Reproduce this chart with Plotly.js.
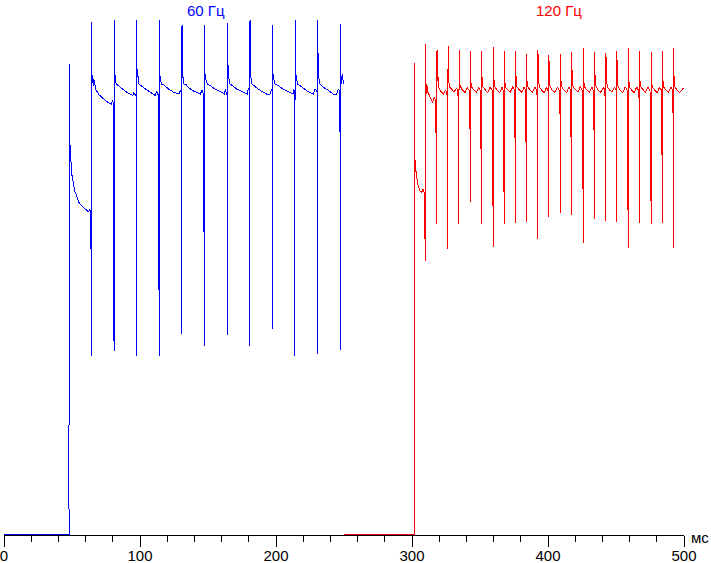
<!DOCTYPE html>
<html>
<head>
<meta charset="utf-8">
<script src="https://cdn.plot.ly/plotly-3.0.1.min.js"></script>
<style>
html,body{margin:0;padding:0;background:#fff;}
#chart{width:711px;height:563px;}
svg path.js-line{shape-rendering:crispEdges;}
</style>
</head>
<body>
<div id="chart"></div>
<script>
// Time axis, ms
const xTickVals = [0, 100, 200, 300, 400, 500];
const xTickText = ["0", "100", "200", "300", "400", "500"];
const xUnit = "мс";
const seriesNames = ["60 Гц", "120 Гц"];

// 60 Hz series (time ms, brightness, arbitrary units)
const blueT = [
  0, 47.8, 47.85, 47.95, 48.1, 48.3, 48.5, 49.0, 49.8, 50.9, 52.0, 53.5, 54.9, 56.4, 57.9, 60.1, 62.3, 63.0, 63.7, 64.0, 64.1,
  64.2, 64.3, 64.45, 64.6, 65.0, 65.6, 66.0, 67.5, 70.0, 72.5, 75.0, 77.5, 79.0, 79.8, 80.6,
  80.9, 81.0, 81.15, 81.3, 81.5, 82.5, 85.0, 88.0, 91.0, 94.6, 95.5, 96.6, 97.3,
  97.45, 97.55, 97.6, 97.75, 98.0, 99.1, 102.0, 105.0, 108.0, 111.1, 112.2, 113.6,
  114.1, 114.2, 114.4, 115.7, 117.5, 121.0, 125.0, 128.6, 129.6, 130.4, 130.6,
  130.8, 130.9, 131.05, 131.2, 132.4, 133.5, 136.0, 140.0, 144.5, 145.5, 146.6, 147.3,
  147.45, 147.5, 147.8, 148.6, 149.5, 152.0, 155.0, 159.0, 162.0, 162.8, 163.8,
  164.15, 164.2, 164.3, 164.4, 164.55, 164.8, 166.0, 168.5, 171.0, 175.0, 179.0, 179.6, 180.4,
  180.75, 180.85, 180.9, 181.2, 182.2, 185.0, 189.0, 193.0, 195.5, 196.8, 197.3,
  197.45, 197.5, 197.8, 199.0, 202.0, 205.0, 209.5, 212.5, 213.0, 213.8,
  213.95, 214.0, 214.15, 214.3, 214.6, 215.8, 219.0, 223.0, 227.5, 228.8, 230.2,
  230.55, 230.65, 230.7, 231.0, 232.2, 234.5, 238.0, 242.0, 244.5, 245.8, 247.0,
  247.45, 247.5, 247.65, 247.8, 248.8, 249.6
];
const blueV = [
  0, 0, 93.9, 75, 84.6, 74, 78, 74, 72, 70.4, 68.6, 67.6, 66.4, 65.8, 65.4, 64.8, 64.4, 65, 64.4, 56.4, 64.2,
  35.7, 102.4, 91.7, 89.7, 91.7, 89.7, 91.0, 88.9, 87.8, 87.2, 86.6, 86.1, 86.0, 86.8, 86.0,
  36.7, 102.8, 101, 90, 92, 90, 89.4, 88.8, 88.2, 87.7, 88.3, 87.8, 88.0,
  62, 35.7, 102.8, 91, 93, 90, 89.4, 88.8, 88.2, 87.7, 88.5, 87.7,
  35.7, 102.8, 92.2, 90, 89.8, 89.0, 88.3, 88.0, 88.8, 88.2, 84.4,
  40, 101.8, 97.8, 92, 90, 90, 89.2, 88.5, 88.0, 88.8, 88.0, 40.5,
  37.7, 101.8, 92, 90.6, 90, 89.6, 89.0, 88.5, 88.0, 88.9, 88.0,
  87.6, 39.8, 102.2, 101.6, 91.4, 92, 90, 89.6, 89.0, 88.5, 88.0, 89.2, 88.5,
  55.9, 37.7, 102.7, 92, 90, 89.4, 88.6, 88.0, 88.0, 89.0, 88.4,
  41, 101.8, 92, 90, 89.6, 89.0, 88.4, 88.0, 89.0, 88.4,
  35.7, 102.7, 97.4, 91.4, 92, 90, 89.4, 88.6, 88.0, 89.0, 88.4,
  41.8, 36, 102.7, 92, 90, 89.4, 88.8, 88.0, 88.0, 89.0, 88.4,
  36.9, 102, 97.4, 90, 92, 90
];

// 120 Hz series (time ms, brightness, arbitrary units)
const redT = [
  250.0, 301.5, 301.55, 301.65, 301.8, 302.0, 302.5, 303.3, 304.0, 304.8, 305.9, 307.0, 308.3, 309.2,
  309.75, 309.8, 309.9, 310.1, 310.3, 310.8, 311.6, 313.0, 315.2, 316.3, 317.4,
  318.3, 318.35, 318.4, 318.6, 319.0, 319.6, 321.0, 323.0, 324.6, 325.6,
  326.35, 326.4, 326.5, 326.65, 326.9, 327.6, 329.0, 331.0, 332.8, 333.8,
  334.5, 334.6, 334.8, 335.4, 337.0, 339.0, 340.6, 342.0,
  342.75, 342.8, 342.9, 343.1, 343.7, 345.3, 347.3, 349.0, 350.4,
  351.2, 351.3, 351.5, 352.1, 353.7, 355.7, 357.5, 358.9,
  359.8, 359.9, 360.05, 360.3, 361.0, 362.5, 364.5, 366.2, 367.2,
  367.75, 367.8, 367.9, 368.1, 368.8, 370.3, 372.3, 374.2, 375.4,
  376.15, 376.2, 376.3, 376.5, 377.1, 378.7, 380.7, 382.5, 383.6,
  384.2, 384.3, 384.5, 385.1, 386.7, 388.7, 390.4, 391.8,
  392.45, 392.5, 392.6, 392.75, 393.0, 393.7, 395.2, 397.2, 399.0, 400.0,
  400.55, 400.6, 400.7, 400.9, 401.5, 403.1, 405.1, 406.9, 408.3,
  408.95, 409.0, 409.1, 409.25, 409.5, 410.2, 411.7, 413.7, 415.5, 416.7,
  417.3, 417.4, 417.55, 417.8, 418.5, 420.0, 422.0, 423.9, 425.2,
  425.85, 425.9, 426.0, 426.2, 426.8, 428.4, 430.4, 432.2, 433.5,
  434.15, 434.2, 434.3, 434.45, 434.7, 435.4, 436.9, 438.9, 440.7, 441.9,
  442.5, 442.6, 442.75, 443.0, 443.7, 445.2, 447.2, 449.0, 450.1,
  450.55, 450.6, 450.7, 450.85, 451.5, 453.0, 455.0, 456.8, 458.3,
  458.95, 459.0, 459.1, 459.25, 459.9, 461.4, 463.4, 465.2, 466.6,
  467.25, 467.3, 467.4, 467.55, 468.2, 469.7, 471.7, 473.5, 475.0,
  475.9, 476.0, 476.15, 476.8, 478.3, 480.3, 482.1, 483.5,
  484.15, 484.2, 484.3, 484.45, 485.1, 486.6, 488.6, 490.4, 491.7,
  492.25, 492.3, 492.4, 492.55, 492.7, 493.4, 494.9, 496.9, 498.7, 499.6
];
const redV = [
  0, 0, 94.2, 84.0, 74.4, 75.7, 73.4, 71.4, 70.4, 69.4, 68.6, 68.3, 69.0, 68.0,
  54.7, 83.7, 97.9, 90.3, 88.0, 90.0, 88.4, 87.6, 86.3, 87.3, 86.7,
  64.3, 62.0, 96.7, 90.7, 92.0, 89.4, 88.6, 88.0, 88.7, 88.4,
  85.0, 57.1, 97.5, 94.0, 90.7, 89.4, 88.9, 88.4, 89.2, 88.6,
  62.0, 96.7, 91.0, 89.6, 88.8, 88.3, 89.3, 88.7,
  80.0, 66.5, 96.5, 91.0, 89.4, 88.9, 88.3, 89.3, 88.6,
  62.0, 96.5, 90.7, 89.5, 88.8, 88.2, 89.4, 88.7,
  57.5, 97.3, 95.0, 90.8, 89.4, 88.8, 88.3, 89.3, 88.6,
  75.0, 62.0, 96.5, 90.7, 89.3, 88.9, 88.4, 89.5, 88.8,
  68.4, 62.2, 96.5, 91.0, 89.4, 88.8, 88.3, 89.4, 88.7,
  62.5, 96.0, 90.8, 89.5, 88.8, 88.4, 89.4, 88.7,
  83.4, 59.1, 96.8, 93.0, 90.8, 89.4, 88.8, 88.3, 89.4, 88.6,
  64.5, 63.5, 95.8, 90.7, 89.5, 88.8, 88.3, 89.4, 88.7,
  83.0, 64.2, 96.0, 94.7, 90.8, 89.4, 88.8, 88.3, 89.4, 88.7,
  63.8, 96.3, 92.0, 90.7, 89.4, 88.9, 88.4, 89.5, 88.7,
  65.0, 58.2, 97.1, 91.0, 89.4, 88.8, 88.3, 89.4, 88.6,
  73.3, 63.0, 96.3, 92.8, 90.8, 89.4, 88.8, 88.3, 89.4, 88.7,
  62.7, 96.2, 95.3, 90.8, 89.4, 88.8, 88.4, 89.4, 88.7,
  79.8, 62.5, 96.5, 90.8, 89.5, 88.8, 88.3, 89.4, 88.7,
  61.7, 57.3, 97.1, 91.2, 89.4, 88.8, 88.3, 89.4, 88.7,
  85.8, 62.2, 96.5, 90.8, 89.4, 88.9, 88.3, 89.4, 88.7,
  62.0, 96.3, 90.0, 89.4, 88.8, 88.3, 89.4, 88.7,
  65.8, 62.2, 96.5, 90.8, 89.4, 88.8, 88.3, 89.4, 88.7,
  77.9, 57.3, 97.1, 94.7, 90.7, 89.4, 88.8, 88.3, 88.8, 89.3
];

const labelX = [148.5, 408.0];
const colors = ["#0000ff", "#ff0000"];
const fontFamily = "Liberation Sans, Arial, sans-serif";

const traces = [
  {x: blueT, y: blueV, type: "scatter", mode: "lines", name: seriesNames[0],
   line: {color: colors[0], width: 1}, hoverinfo: "skip"},
  {x: redT, y: redV, type: "scatter", mode: "lines", name: seriesNames[1],
   line: {color: colors[1], width: 1}, hoverinfo: "skip"}
];

const layout = {
  width: 711, height: 563,
  margin: {l: 4, r: 27, t: 0, b: 28, pad: 0},
  paper_bgcolor: "#fff", plot_bgcolor: "#fff",
  showlegend: false,
  font: {family: fontFamily, size: 15, color: "#000"},
  xaxis: {
    range: [0, 500],
    showgrid: false, zeroline: false,
    showline: true, linecolor: "#000", linewidth: 1,
    ticks: "outside", ticklen: 11, tickwidth: 1, tickcolor: "#000",
    tickmode: "array", tickvals: xTickVals, ticktext: xTickText,
    ticklabelstandoff: -4, ticklabeloverflow: "allow",
    minor: {ticks: "outside", ticklen: 6, tickwidth: 1, tickcolor: "#000", tick0: 0, dtick: 20, showgrid: false},
    tickfont: {family: fontFamily, size: 15, color: "#000"},
    fixedrange: true
  },
  yaxis: {range: [-0.2, 106.8], visible: false, fixedrange: true},
  annotations: [
    {x: labelX[0], xref: "x", y: 1, yref: "paper", yanchor: "top", xanchor: "center",
     text: seriesNames[0], showarrow: false, font: {family: fontFamily, size: 15, color: colors[0]}},
    {x: labelX[1], xref: "x", y: 1, yref: "paper", yanchor: "top", xanchor: "center",
     text: seriesNames[1], showarrow: false, font: {family: fontFamily, size: 15, color: colors[1]}},
    {x: 1, xref: "paper", y: 0, yref: "paper", xanchor: "left", yanchor: "middle", xshift: 5, yshift: -2,
     text: xUnit, showarrow: false, font: {family: fontFamily, size: 15, color: "#000"}}
  ]
};

Plotly.newPlot("chart", traces, layout, {staticPlot: true, displayModeBar: false});
</script>
</body>
</html>
